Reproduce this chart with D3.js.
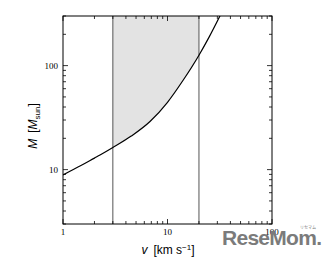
<!DOCTYPE html>
<html>
<head>
<meta charset="utf-8">
<script src="https://cdn.jsdelivr.net/npm/d3@7"></script>
<style>
  body { margin: 0; background: #fff; }
  .tick-label { font-family: "Liberation Serif", "DejaVu Serif", serif; font-size: 9px; fill: #000; }
  .axis-label { font-family: "Liberation Sans", Arial, sans-serif; font-size: 12px; fill: #000; }
</style>
</head>
<body>
<div id="chart"></div>
<script>
// curve: velocity (km/s) vs mass (Msun)
const velocity = [1, 1.5, 2, 2.26, 3, 4.5, 6.8, 10, 14, 20, 25, 32];
const mass = [8.9, 11.0, 12.9, 13.8, 16.3, 21, 29, 44.4, 71.5, 126, 188, 305];
const bandEdges = [3, 20];           // vertical lines / shaded band
const xTickLabels = [1, 10, 100];
const yTickLabels = [10, 100];

const width = 335, height = 261;
const margin = {top: 16, right: 63, bottom: 37, left: 63};
const innerWidth = width - margin.left - margin.right;
const innerHeight = height - margin.top - margin.bottom;

const svg = d3.select('#chart').append('svg')
    .attr('width', width)
    .attr('height', height);

const g = svg.append('g')
    .attr('transform', `translate(${margin.left},${margin.top})`);

const xScale = d3.scaleLog().domain([1, 100]).range([0, innerWidth]);
const yScale = d3.scaleLog().domain([3, 300]).range([innerHeight, 0]);

const data = velocity.map((v, i) => ({v: v, m: mass[i]}));

g.append('clipPath').attr('id', 'clip')
    .append('rect').attr('width', innerWidth).attr('height', innerHeight);

// shaded band above the curve
const band = data.filter(d => d.v >= bandEdges[0] && d.v <= bandEdges[1]);
const area = d3.area()
    .x(d => xScale(d.v))
    .y0(0)
    .y1(d => yScale(d.m))
    .curve(d3.curveMonotoneX);
g.append('path')
    .attr('d', area(band))
    .attr('fill', '#e3e3e3')
    .attr('clip-path', 'url(#clip)');

// vertical lines
g.selectAll('.edge').data(bandEdges).enter().append('line')
    .attr('class', 'edge')
    .attr('x1', d => xScale(d)).attr('x2', d => xScale(d))
    .attr('y1', 0).attr('y2', innerHeight)
    .attr('stroke', '#555').attr('stroke-width', 1);

// curve
const line = d3.line()
    .x(d => xScale(d.v))
    .y(d => yScale(d.m))
    .curve(d3.curveMonotoneX);
g.append('path')
    .attr('d', line(data))
    .attr('fill', 'none')
    .attr('stroke', '#000')
    .attr('stroke-width', 1.2)
    .attr('clip-path', 'url(#clip)');

// ticks, pointing inward on all four sides
const xTicks = xScale.ticks();
const yTicks = yScale.ticks();
const isMajor = v => Math.abs(Math.log10(v) - Math.round(Math.log10(v))) < 1e-6;

const axisG = g.append('g').attr('stroke', '#000').attr('stroke-width', 0.8);
xTicks.forEach(t => {
    const len = isMajor(t) ? 5 : 3;
    const x = xScale(t);
    axisG.append('line').attr('x1', x).attr('x2', x).attr('y1', innerHeight).attr('y2', innerHeight - len);
    axisG.append('line').attr('x1', x).attr('x2', x).attr('y1', 0).attr('y2', len);
});
yTicks.forEach(t => {
    const len = isMajor(t) ? 5 : 3;
    const y = yScale(t);
    axisG.append('line').attr('x1', 0).attr('x2', len).attr('y1', y).attr('y2', y);
    axisG.append('line').attr('x1', innerWidth).attr('x2', innerWidth - len).attr('y1', y).attr('y2', y);
});

// frame
g.append('rect')
    .attr('width', innerWidth).attr('height', innerHeight)
    .attr('fill', 'none').attr('stroke', '#000').attr('stroke-width', 1);

// tick labels
g.selectAll('.xl').data(xTickLabels).enter().append('text')
    .attr('class', 'tick-label')
    .attr('x', d => xScale(d))
    .attr('y', innerHeight + 11)
    .attr('text-anchor', 'middle')
    .text(d => d);

g.selectAll('.yl').data(yTickLabels).enter().append('text')
    .attr('class', 'tick-label')
    .attr('x', -5)
    .attr('y', d => yScale(d) + 3)
    .attr('text-anchor', 'end')
    .text(d => d);

// axis titles
const xt = svg.append('text')
    .attr('class', 'axis-label')
    .attr('x', 168).attr('y', 254)
    .attr('text-anchor', 'middle');
xt.append('tspan').attr('font-style', 'italic').text('v');
xt.append('tspan').attr('dx', 6).text('[km s');
xt.append('tspan').attr('font-size', '8px').attr('dy', -4).text('−1');
xt.append('tspan').attr('dy', 4).text(']');

const yt = svg.append('text')
    .attr('class', 'axis-label')
    .attr('transform', 'translate(37,126) rotate(-90)')
    .attr('text-anchor', 'middle');
yt.append('tspan').attr('font-style', 'italic').text('M');
yt.append('tspan').attr('dx', 6).text('[');
yt.append('tspan').attr('font-style', 'italic').text('M');
yt.append('tspan').attr('font-size', '8px').attr('dy', 3).text('sun');
yt.append('tspan').attr('dy', -3).text(']');

// watermark
svg.append('text')
    .attr('x', 222).attr('y', 245)
    .attr('font-family', '"Liberation Sans", Arial, sans-serif')
    .attr('font-weight', 'bold')
    .attr('font-size', '21px')
    .attr('fill', '#7b7b7b')
    .attr('textLength', 100)
    .text('ReseMom.');
svg.append('text')
    .attr('x', 300).attr('y', 229)
    .attr('font-family', '"Noto Sans CJK JP", sans-serif')
    .attr('font-size', '4px')
    .attr('fill', '#7b7b7b')
    .text('リセマム');
</script>
</body>
</html>
